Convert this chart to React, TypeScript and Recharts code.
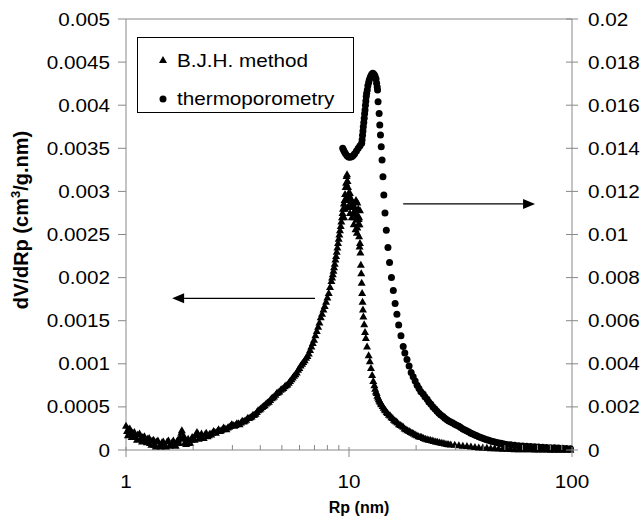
import { Legend, ReferenceLine, Scatter, ScatterChart, XAxis, YAxis } from 'recharts';

const bjhPoints: [number, number][] = [
   [1.0, 0.00028], [1.01, 0.00022], [1.02, 0.00017], [1.03, 0.00024], [1.04, 0.00025],
   [1.05, 0.00019], [1.06, 0.00015], [1.07, 0.0002], [1.09, 0.00021], [1.1, 0.00016],
   [1.12, 0.00012], [1.13, 0.00018], [1.15, 0.00019], [1.16, 0.00013], [1.18, 0.0001],
   [1.19, 0.00015], [1.21, 0.00016], [1.22, 0.00011], [1.24, 0.00009], [1.25, 0.00013],
   [1.27, 0.00014], [1.28, 0.00008], [1.3, 0.00006], [1.31, 0.00011], [1.33, 0.00012],
   [1.34, 0.00006], [1.36, 0.00004], [1.37, 0.0001], [1.39, 0.00011], [1.41, 0.00005],
   [1.43, 0.00004], [1.45, 0.00009], [1.47, 0.0001], [1.49, 0.00006], [1.51, 0.00004],
   [1.53, 0.0001], [1.55, 0.00011], [1.57, 0.00005], [1.59, 0.00006], [1.61, 0.00009],
   [1.63, 0.00011], [1.65, 0.00007], [1.67, 0.00005], [1.69, 0.0001], [1.71, 0.00012],
   [1.73, 0.00008], [1.75, 0.00015], [1.77, 0.0002], [1.78, 0.00023], [1.8, 0.00013],
   [1.82, 0.00016], [1.84, 0.00009], [1.86, 0.00007], [1.88, 0.00011], [1.9, 0.00013],
   [1.92, 0.00009], [1.94, 0.00008], [1.96, 0.00012], [1.98, 0.00015], [2.0, 0.00013],
   [2.03, 0.00012], [2.05, 0.00017], [2.08, 0.00021], [2.1, 0.00019], [2.12, 0.00013],
   [2.15, 0.00015], [2.18, 0.00019], [2.2, 0.00016], [2.23, 0.00014], [2.26, 0.00018],
   [2.29, 0.0002], [2.32, 0.00016], [2.35, 0.00017], [2.38, 0.00019], [2.41, 0.00018],
   [2.44, 0.0002], [2.47, 0.00022], [2.5, 0.00021], [2.53, 0.0002], [2.57, 0.00022],
   [2.6, 0.00024], [2.64, 0.00022], [2.67, 0.00023], [2.71, 0.00024], [2.74, 0.00026],
   [2.78, 0.00025], [2.82, 0.00024], [2.86, 0.00026], [2.9, 0.00027], [2.94, 0.00028],
   [2.98, 0.0003], [3.02, 0.00029], [3.06, 0.00028], [3.1, 0.00029], [3.14, 0.00031],
   [3.19, 0.00031], [3.23, 0.0003], [3.28, 0.00032], [3.32, 0.00034], [3.37, 0.00033],
   [3.41, 0.00034], [3.46, 0.00035], [3.51, 0.00037], [3.56, 0.00037], [3.61, 0.00038],
   [3.66, 0.00039], [3.71, 0.00041], [3.76, 0.00041], [3.81, 0.00042], [3.86, 0.00044],
   [3.91, 0.00046], [3.97, 0.00047], [4.02, 0.00048], [4.08, 0.0005], [4.13, 0.00051],
   [4.19, 0.00052], [4.25, 0.00054], [4.31, 0.00055], [4.37, 0.00056], [4.43, 0.00058],
   [4.49, 0.0006], [4.55, 0.00061], [4.61, 0.00062], [4.68, 0.00064], [4.74, 0.00066],
   [4.81, 0.00067], [4.87, 0.00068], [4.94, 0.0007], [5.01, 0.00071], [5.08, 0.00072],
   [5.15, 0.00074], [5.22, 0.00075], [5.29, 0.00076], [5.37, 0.00078], [5.44, 0.0008],
   [5.52, 0.00082], [5.59, 0.00084], [5.67, 0.00086], [5.75, 0.00088], [5.83, 0.0009],
   [5.91, 0.00093], [5.99, 0.00095], [6.07, 0.00098], [6.16, 0.001], [6.24, 0.00102],
   [6.33, 0.00104], [6.42, 0.00107], [6.51, 0.00109], [6.6, 0.00112], [6.69, 0.00116],
   [6.78, 0.0012], [6.88, 0.00124], [6.97, 0.00128], [7.07, 0.00133], [7.17, 0.00138],
   [7.27, 0.00143], [7.37, 0.00148], [7.47, 0.00154], [7.57, 0.00158], [7.68, 0.00163],
   [7.78, 0.00167], [7.89, 0.00172], [8.0, 0.00177], [8.11, 0.00182], [8.22, 0.00189],
   [8.34, 0.00196], [8.4, 0.002], [8.46, 0.00204], [8.52, 0.00208], [8.57, 0.00212],
   [8.63, 0.00216], [8.69, 0.00221], [8.75, 0.00225], [8.81, 0.0023], [8.87, 0.00235],
   [8.93, 0.0024], [8.99, 0.00245], [9.05, 0.0025], [9.11, 0.00255], [9.18, 0.0026],
   [9.24, 0.00265], [9.3, 0.0027], [9.35, 0.00275], [9.4, 0.0028], [9.48, 0.00286],
   [9.55, 0.0029], [9.6, 0.00297], [9.65, 0.00305], [9.7, 0.0031], [9.75, 0.00318],
   [9.8, 0.0032], [9.85, 0.00312], [9.9, 0.00305], [9.5, 0.0027], [9.6, 0.0028],
   [9.7, 0.0029], [9.8, 0.00292], [9.9, 0.00282], [9.95, 0.00298], [10.0, 0.00296],
   [10.05, 0.0029], [10.1, 0.00298], [10.1, 0.00275], [10.15, 0.00292], [10.2, 0.00288],
   [10.25, 0.00284], [10.3, 0.0029], [10.3, 0.0027], [10.35, 0.00286], [10.4, 0.00282],
   [10.45, 0.00275], [10.5, 0.00276], [10.5, 0.00262], [10.55, 0.0027], [10.6, 0.00282],
   [10.65, 0.00278], [10.7, 0.00272], [10.7, 0.00256], [10.75, 0.0029], [10.8, 0.00267],
   [10.85, 0.00252], [10.9, 0.00287], [10.9, 0.00258], [10.95, 0.00272], [11.0, 0.0028],
   [11.0, 0.00262], [11.05, 0.00268], [11.1, 0.0027], [11.1, 0.00248], [11.15, 0.00262],
   [11.15, 0.00236], [11.2, 0.00278], [11.2, 0.0024], [11.25, 0.00229], [11.3, 0.00215],
   [11.35, 0.00205], [11.4, 0.00194], [11.45, 0.00182], [11.5, 0.00172], [11.55, 0.00163],
   [11.6, 0.00155], [11.7, 0.00146], [11.8, 0.00137], [11.9, 0.0013], [12.05, 0.0012],
   [12.25, 0.0011], [12.4, 0.00103], [12.55, 0.00095], [12.7, 0.00087], [12.85, 0.0008],
   [13.0, 0.00075], [13.1, 0.00071], [13.2, 0.00068], [13.3, 0.00066], [13.4, 0.00063],
   [13.5, 0.00061], [13.6, 0.00059], [13.7, 0.00057], [13.8, 0.00056], [13.9, 0.00054],
   [14.0, 0.00053], [14.15, 0.00051], [14.3, 0.00049], [14.45, 0.00047], [14.6, 0.00046],
   [14.75, 0.00044], [14.9, 0.00043], [15.1, 0.00041], [15.3, 0.0004], [15.5, 0.00038],
   [15.7, 0.00037], [15.9, 0.00035], [16.1, 0.00034], [16.3, 0.00033], [16.5, 0.00032],
   [16.75, 0.0003], [17.0, 0.00029], [17.25, 0.00028], [17.5, 0.00027], [17.75, 0.00025],
   [18.0, 0.00024], [18.3, 0.00023], [18.6, 0.00022], [18.9, 0.00021], [19.2, 0.0002],
   [19.5, 0.00019], [19.8, 0.00018], [20.15, 0.00017], [20.5, 0.00016], [20.85, 0.000155],
   [21.2, 0.00015], [21.6, 0.00014], [22.0, 0.00013], [22.4, 0.000125], [22.8, 0.00012],
   [23.2, 0.000115], [23.6, 0.00011], [24.0, 0.000105], [24.5, 0.0001], [24.9, 0.000095],
   [25.4, 0.00009], [25.9, 0.000085], [26.4, 0.00008], [26.9, 0.000075], [27.5, 0.00007],
   [28.0, 0.000068], [28.6, 0.000065], [29.8, 0.00006], [31.1, 0.000055], [32.4, 0.00005],
   [33.8, 0.000045], [35.2, 0.00004], [36.7, 0.000035], [38.2, 0.00003], [39.8, 0.00003],
   [41.5, 0.000025], [43.2, 0.00002], [45.0, 0.00002], [46.9, 0.000018], [48.9, 0.000015],
   [51.0, 0.000015], [53.1, 0.000012], [55.3, 0.00001], [57.7, 0.00001], [60.1, 0.00001],
   [62.6, 0.000008], [65.2, 0.000008], [68.0, 0.000006], [70.8, 0.000006], [73.8, 0.000005],
   [76.9, 0.000005], [80.1, 0.000004], [83.5, 0.000004], [87.0, 0.000003], [90.6, 0.000003],
   [94.4, 0.000002], [98.4, 0.000002],
];

// [Rp (nm), dV/dRp] (right axis)
const thermoPoints: [number, number][] = [
   [9.37, 0.014], [9.45, 0.01392], [9.55, 0.01383], [9.65, 0.01375], [9.8, 0.01366],
   [9.95, 0.0136], [10.1, 0.01358], [10.28, 0.01361], [10.45, 0.01367], [10.6, 0.01375],
   [10.8, 0.01388], [11.0, 0.014], [11.2, 0.01412], [11.4, 0.01423], [11.45, 0.0144],
   [11.5, 0.0146], [11.55, 0.0148], [11.59, 0.015], [11.65, 0.0152], [11.7, 0.0154],
   [11.75, 0.0156], [11.8, 0.01578], [11.85, 0.016], [11.9, 0.0162], [11.95, 0.0164],
   [12.0, 0.01655], [12.08, 0.0167], [12.15, 0.0169], [12.25, 0.01705], [12.33, 0.01717],
   [12.45, 0.01728], [12.55, 0.01737], [12.65, 0.01744], [12.78, 0.01748], [12.9, 0.01745],
   [13.0, 0.0174], [13.1, 0.01733], [13.22, 0.01722], [13.3, 0.01702], [13.38, 0.01685],
   [13.43, 0.0167], [13.5, 0.01616], [13.65, 0.01562], [13.74, 0.01508], [13.84, 0.01462],
   [13.95, 0.01407], [14.07, 0.01346], [14.2, 0.01268], [14.33, 0.01183], [14.5, 0.011],
   [14.7, 0.0102], [14.95, 0.0094], [15.2, 0.0087], [15.5, 0.008], [15.8, 0.0074],
   [16.1, 0.0068], [16.4, 0.0063], [16.7, 0.0058], [17.1, 0.0053], [17.5, 0.0048],
   [17.8, 0.0045], [18.2, 0.0042], [18.6, 0.0039], [19.0, 0.0036], [19.4, 0.0034],
   [19.8, 0.0032], [20.2, 0.003], [20.6, 0.00285], [21.0, 0.0027], [21.5, 0.0026],
   [21.9, 0.00247], [22.4, 0.00235], [22.8, 0.00223], [23.3, 0.00212], [23.8, 0.002],
   [24.3, 0.0019], [24.8, 0.0018], [25.3, 0.0017], [25.8, 0.00162], [26.4, 0.00155],
   [26.9, 0.00147], [27.5, 0.0014], [28.0, 0.00135], [28.6, 0.0013], [29.2, 0.00125],
   [29.8, 0.0012], [30.4, 0.00115], [31.1, 0.0011], [31.7, 0.00104], [32.4, 0.00098],
   [33.1, 0.00093], [33.8, 0.00088], [34.5, 0.00083], [35.2, 0.00078], [35.9, 0.00074],
   [36.7, 0.0007], [37.4, 0.00066], [38.2, 0.00062], [39.0, 0.00058], [39.8, 0.00055],
   [40.6, 0.00051], [41.5, 0.00047], [42.3, 0.00045], [43.2, 0.00042], [44.1, 0.0004],
   [45.0, 0.00037], [45.9, 0.00035], [46.9, 0.00033], [47.9, 0.00031], [48.9, 0.00029],
   [49.9, 0.00027], [51.0, 0.00026], [53.1, 0.00024], [55.3, 0.00022], [57.7, 0.0002],
   [60.1, 0.00018], [62.6, 0.00017], [65.2, 0.00016], [68.0, 0.00015], [70.8, 0.00014],
   [73.8, 0.00013], [76.9, 0.00012], [80.1, 0.00011], [83.5, 0.0001], [87.0, 0.00009],
   [90.6, 0.00008], [94.4, 0.00007], [98.4, 0.00006],
];

const xTicks = [1, 2, 3, 4, 5, 6, 7, 8, 9, 10, 20, 30, 40, 50, 60, 70, 80, 90, 100];
const xLabelled = [1, 10, 100];
const leftTicks = [0, 0.0005, 0.001, 0.0015, 0.002, 0.0025, 0.003, 0.0035, 0.004, 0.0045, 0.005];
const rightTicks = [0, 0.002, 0.004, 0.006, 0.008, 0.01, 0.012, 0.014, 0.016, 0.018, 0.02];

// arrow annotations, in data coordinates: [from, to]
const leftArrow = [{ x: 7.04, y: 0.00176 }, { x: 1.61, y: 0.00176 }];
const rightArrow = [{ x: 17.5, y: 0.01142 }, { x: 68.3, y: 0.01142 }];

const bjhData = bjhPoints.map(([rp, v]) => ({ rp, v }));
const thermoData = thermoPoints.map(([rp, v]) => ({ rp, v }));

const FONT = '"Liberation Sans", Arial, sans-serif';
const AXIS = '#888888';

const Triangle = (p: any) => (
   <polygon
      points={`${p.cx},${p.cy - 4} ${p.cx - 4},${p.cy + 3} ${p.cx + 4},${p.cy + 3}`}
      fill="#000"
   />
);
const Dot = (p: any) => <circle cx={p.cx} cy={p.cy} r={3.5} fill="#000" />;

const StretchText = ({ x, y, anchor, children, size = 18 }: any) => (
   <text
      transform={`translate(${x},${y}) scale(1.15,1)`}
      textAnchor={anchor}
      fontFamily={FONT}
      fontSize={size}
      fill="#000"
   >
      {children}
   </text>
);

const XTick = ({ x, y, payload }: any) => {
   const major = xLabelled.includes(payload.value);
   return (
      <g>
         <line x1={x} x2={x} y1={major ? y - 3 : y - 5} y2={major ? y + 7 : y} stroke={AXIS} />
         {major && (
            <StretchText x={x} y={y + 38} anchor="middle">
               {payload.value}
            </StretchText>
         )}
      </g>
   );
};

const LeftTick = ({ x, y, payload }: any) => (
   <g>
      <line x1={x - 8} x2={x} y1={y} y2={y} stroke={AXIS} />
      <StretchText x={x - 16} y={y + 6.5} anchor="end">
         {String(payload.value)}
      </StretchText>
   </g>
);

const RightTick = ({ x, y, payload }: any) => (
   <g>
      <line x1={x - 6} x2={x + 6} y1={y} y2={y} stroke={AXIS} />
      <StretchText x={x + 16} y={y + 6.5} anchor="start">
         {String(payload.value)}
      </StretchText>
   </g>
);

const arrowShape = (p: any) => {
   const { x1, y1, x2, y2 } = p;
   const dir = x2 > x1 ? 1 : -1;
   const head = 12;
   return (
      <g>
         <line x1={x1} y1={y1} x2={x2 - dir * head} y2={y2} stroke="#000" strokeWidth={1.3} />
         <polygon
            points={`${x2},${y2} ${x2 - dir * head},${y2 - 5} ${x2 - dir * head},${y2 + 5}`}
            fill="#000"
         />
      </g>
   );
};

const YTitle = () => (
   <text
      transform="translate(28,220) rotate(-90)"
      textAnchor="middle"
      fontFamily={FONT}
      fontSize={20}
      fontWeight="bold"
      fill="#000"
   >
      dV/dRp (cm<tspan dy={-8} fontSize={13}>3</tspan>
      <tspan dy={8}>/g.nm)</tspan>
   </text>
);

const XTitle = () => (
   <text x={359} y={513} textAnchor="middle" fontFamily={FONT} fontSize={16} fontWeight="bold" fill="#000">
      Rp (nm)
   </text>
);

const LegendBox = () => (
   <svg width={217} height={76} style={{ display: 'block' }}>
      <rect x={0.5} y={0.5} width={216} height={75} fill="#fff" stroke="#000" />
      <Triangle cx={26} cy={23} />
      <StretchText x={40} y={29.5} anchor="start">
         B.J.H. method
      </StretchText>
      <Dot cx={26} cy={62} />
      <StretchText x={40} y={68} anchor="start">
         thermoporometry
      </StretchText>
   </svg>
);

export default function App() {
   return (
      <div style={{ position: 'fixed', left: 0, top: 0, width: 643, height: 530, background: '#fff' }}>
         <ScatterChart width={643} height={530} margin={{ top: 19, right: 0, bottom: 0, left: 0 }}>
            <XAxis
               dataKey="rp"
               type="number"
               scale="log"
               domain={[1, 100]}
               ticks={xTicks}
               interval={0}
               tickSize={0}
               tickMargin={0}
               tick={<XTick />}
               tickLine={false}
               axisLine={{ stroke: AXIS }}
               height={80}
               label={<XTitle />}
            />
            <YAxis
               yAxisId="left"
               dataKey="v"
               type="number"
               domain={[0, 0.005]}
               ticks={leftTicks}
               interval={0}
               tickSize={0}
               tickMargin={0}
               tick={<LeftTick />}
               tickLine={false}
               axisLine={{ stroke: AXIS }}
               width={126}
               label={<YTitle />}
            />
            <YAxis
               yAxisId="right"
               orientation="right"
               dataKey="v"
               type="number"
               domain={[0, 0.02]}
               ticks={rightTicks}
               interval={0}
               tickSize={0}
               tickMargin={0}
               tick={<RightTick />}
               tickLine={false}
               axisLine={{ stroke: AXIS }}
               width={71}
            />
            <ReferenceLine yAxisId="left" y={0.005} stroke={AXIS} />
            <Scatter
               name="B.J.H. method"
               yAxisId="left"
               data={bjhData}
               shape={Triangle}
               isAnimationActive={false}
            />
            <Scatter
               name="thermoporometry"
               yAxisId="right"
               data={thermoData}
               shape={Dot}
               isAnimationActive={false}
            />
            <ReferenceLine yAxisId="left" segment={leftArrow} shape={arrowShape} />
            <ReferenceLine yAxisId="right" segment={rightArrow} shape={arrowShape} />
            <Legend
               layout="horizontal"
               verticalAlign="middle"
               align="center"
               content={<LegendBox />}
               wrapperStyle={{ left: 137, top: 37, width: 217, height: 76 }}
            />
         </ScatterChart>
      </div>
   );
}
